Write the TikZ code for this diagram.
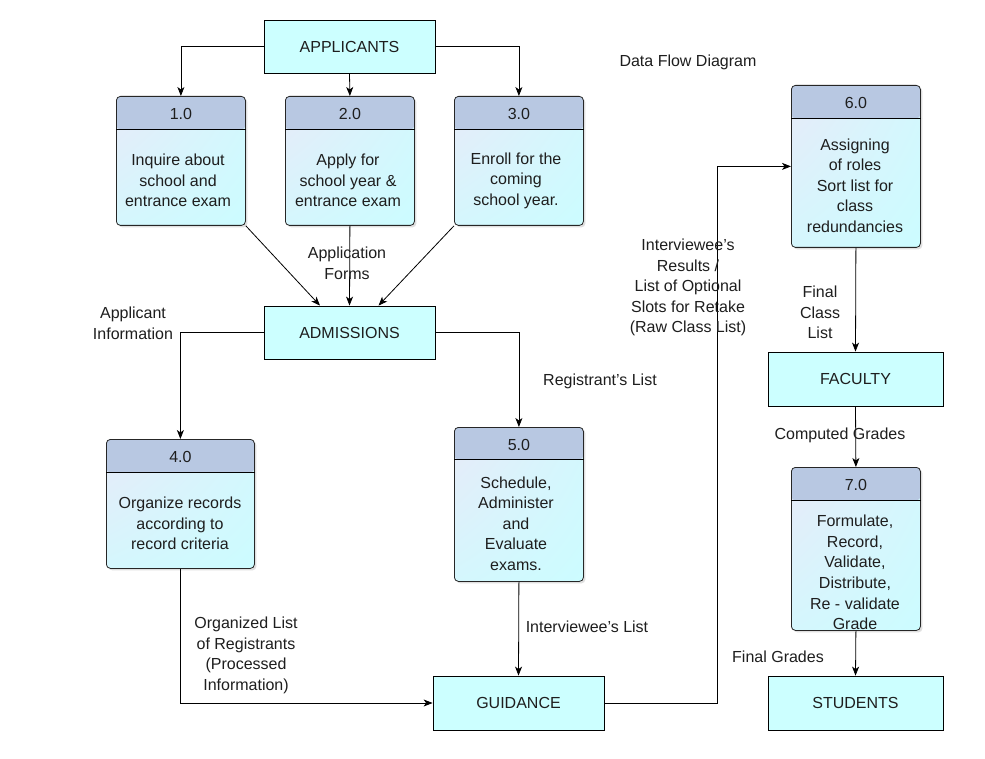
\documentclass[tikz,border=0pt]{standalone}
\usepackage{fontspec}
\setmainfont{Liberation Sans}
\usetikzlibrary{arrows.meta,shadows,shadings}
\definecolor{entfill}{HTML}{CCFFFF}
\definecolor{hdrfill}{HTML}{B8C8E2}
\definecolor{bodyA}{HTML}{E8EAF8}
\definecolor{bodyB}{HTML}{CCFCFF}
\definecolor{txtc}{HTML}{1E1E1E}
\tikzset{
  x=1pt, y=-1pt,
  every node/.style={font=\fontsize{16}{20.6}\selectfont, text=txtc},
  ent/.style={draw=black, line width=0.8pt, fill=entfill, inner sep=0pt},
  proc/.style={draw=black!85, line width=0.8pt, rounded corners=4pt, inner sep=0pt,
    upper left=bodyA, upper right=bodyB!70!bodyA, lower left=bodyB!70!bodyA, lower right=bodyB,
    drop shadow={shadow xshift=2pt, shadow yshift=-2pt, opacity=0.25}},
  lbl/.style={align=center, inner sep=1pt, yshift=-1.5pt},
  arr/.style={draw=black, line width=0.8pt, -{Stealth[length=9pt,width=7pt,inset=2.5pt]}}
}
\newcommand\etext[1]{\raisebox{-1.5pt}{#1}}
\newcommand\procbox[7]{%
  \node[proc, minimum width=#4pt, minimum height=#5pt, anchor=north west,
    path picture={\fill[hdrfill] (path picture bounding box.north west) rectangle ([yshift=-#6pt]path picture bounding box.north east);}] (#1) at (#2,#3) {};
  \draw[line width=0.8pt] ([yshift=-#6pt]#1.north west) -- ([yshift=-#6pt]#1.north east);
  \node[lbl] (#1n) at ([yshift={-#6pt/2}]#1.north) {#7};
}
\begin{document}
\begin{tikzpicture}
\useasboundingbox[fill=white] (0,0) rectangle (985,759);

% external entities
\node[ent, minimum width=171pt, minimum height=53pt] (app) at (349.5,46.5) {\etext{APPLICANTS}};
\node[ent, minimum width=171pt, minimum height=53pt] (adm) at (349.5,332.5) {\etext{ADMISSIONS}};
\node[ent, minimum width=171pt, minimum height=54pt] (gui) at (518.5,703) {\etext{GUIDANCE}};
\node[ent, minimum width=175pt, minimum height=54pt] (fac) at (855.5,379) {\etext{FACULTY}};
\node[ent, minimum width=175pt, minimum height=54pt] (stu) at (855.5,703) {\etext{STUDENTS}};

% processes
\procbox{p1}{116}{96}{129}{129}{33}{1.0}
\procbox{p2}{285}{96}{129}{129}{33}{2.0}
\procbox{p3}{454}{96}{129}{129}{33}{3.0}
\procbox{p4}{106}{439}{148}{129}{33}{4.0}
\procbox{p5}{454}{427}{129}{154}{32}{5.0}
\procbox{p6}{791}{85}{129}{162}{33}{6.0}
\procbox{p7}{791}{467}{129}{163}{33}{7.0}

\node[lbl] (p1b) at (178,179) {Inquire about\\school and\\entrance exam};
\node[lbl] (p2b) at (348,179) {Apply for\\school year \&\\entrance exam};
\node[lbl] (p3b) at (516,179) {Enroll for the\\coming\\school year.};
\node[lbl] (p4b) at (180,522) {Organize records\\according to\\record criteria};
\node[lbl] (p5b) at (516,522) {Schedule,\\Administer\\and\\Evaluate\\exams.};
\node[lbl] (p6b) at (855,184) {Assigning\\of roles\\Sort list for\\class\\redundancies};
\node[lbl] (p7b) at (855,571) {Formulate,\\Record,\\Validate,\\Distribute,\\Re - validate\\Grade};

% connectors
\draw[arr] (app.west) -| (p1.north);
\draw[arr] (app.south) -- (p2.north);
\draw[arr] (app.east) -| (p3.north);
\draw[arr] (p1.south east) -- ([xshift=-29.5pt]adm.north);
\draw[arr] (p2.south) -- (adm.north);
\draw[arr] (p3.south west) -- ([xshift=29pt]adm.north);
\draw[arr] (adm.west) -| (p4.north);
\draw[arr] (adm.east) -| (p5.north);
\draw[arr] (p4.south) |- (gui.west);
\draw[arr] (p5.south) -- (gui.north);
\coordinate (gbend) at (717,703);
\draw[arr] (gui.east) -- (gbend) |- (p6.west);
\draw[arr] (p6.south) -- (fac.north);
\draw[arr] (fac.south) -- (p7.north);
\draw[arr] (p7.south) -- (stu.north);

% labels
\node[lbl] (title) at (688,61) {Data Flow Diagram};
\node[lbl] (lAF) at (347,262) {Application\\Forms};
\node[lbl] (lAI) at (133,322) {Applicant\\Information};
\node[lbl] (lRL) at (600,380) {Registrant's List};
\node[lbl] (lIR) at (688,286) {Interviewee’s\\Results /\\List of Optional\\Slots for Retake\\(Raw Class List)};
\node[lbl] (lFC) at (820,311) {Final\\Class\\List};
\node[lbl] (lCG) at (840,434) {Computed Grades};
\node[lbl] (lOL) at (246,654) {Organized List\\of Registrants\\(Processed\\Information)};
\node[lbl] (lIL) at (587,625) {Interviewee's List};
\node[lbl] (lFG) at (778,655) {Final Grades};
\end{tikzpicture}
\end{document}
